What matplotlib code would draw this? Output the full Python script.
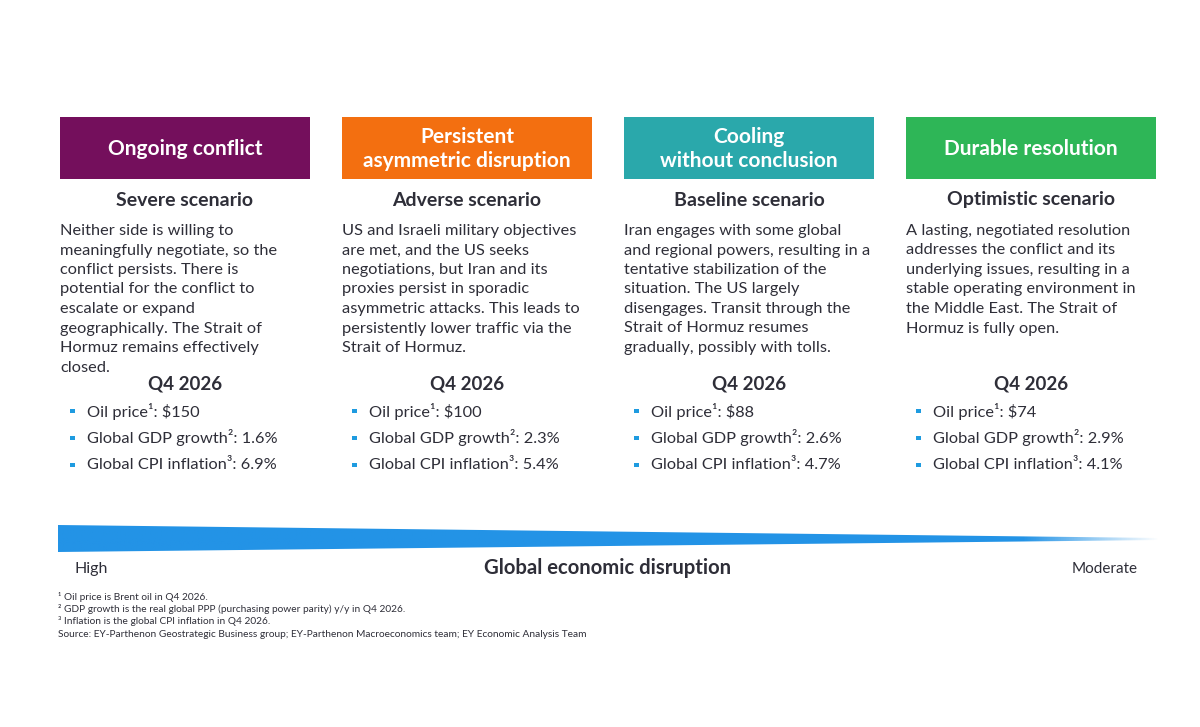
import numpy as np
import matplotlib
matplotlib.use("Agg")
import matplotlib.pyplot as plt
from matplotlib.patches import Rectangle, Polygon

plt.rcParams['font.family'] = ['Lato', 'DejaVu Sans']

# scenario content
headers = ["Ongoing conflict", "Persistent\nasymmetric disruption",
           "Cooling\nwithout conclusion", "Durable resolution"]
header_colors = ["#740F5C", "#F36F10", "#2AA8AB", "#2EB657"]
subtitles = ["Severe scenario", "Adverse scenario", "Baseline scenario", "Optimistic scenario"]
descriptions = [
    ["Neither side is willing to", "meaningfully negotiate, so the", "conflict persists. There is",
     "potential for the conflict to", "escalate or expand", "geographically. The Strait of",
     "Hormuz remains effectively", "closed."],
    ["US and Israeli military objectives", "are met, and the US seeks",
     "negotiations, but Iran and its", "proxies persist in sporadic",
     "asymmetric attacks. This leads to", "persistently lower traffic via the",
     "Strait of Hormuz."],
    ["Iran engages with some global", "and regional powers, resulting in a",
     "tentative stabilization of the", "situation. The US largely",
     "disengages. Transit through the", "Strait of Hormuz resumes",
     "gradually, possibly with tolls."],
    ["A lasting, negotiated resolution", "addresses the conflict and its",
     "underlying issues, resulting in a", "stable operating environment in",
     "the Middle East. The Strait of", "Hormuz is fully open."],
]
period = "Q4 2026"
oil_price = [150, 100, 88, 74]
gdp_growth = [1.6, 2.3, 2.6, 2.9]
cpi_inflation = [6.9, 5.4, 4.7, 4.1]

footnotes = [
    "\u00b9 Oil price is Brent oil in Q4 2026.",
    "\u00b2 GDP growth is the real global PPP (purchasing power parity) y/y in Q4 2026.",
    "\u00b3 Inflation is the global CPI inflation in Q4 2026.",
    "Source: EY-Parthenon Geostrategic Business group; EY-Parthenon Macroeconomics team; EY Economic Analysis Team",
]

TEXT = "#2E2E38"
BULLET = "#1E9BE0"

fig = plt.figure(figsize=(12, 7.27), dpi=100)
ax = fig.add_axes([0, 0, 1, 1])
ax.set_xlim(0, 1200)
ax.set_ylim(727, 0)
ax.axis("off")

col_x0 = [60, 342, 624, 906]
col_w = 250

for i in range(4):
    x0 = col_x0[i]
    xc = x0 + col_w / 2
    ax.add_patch(Rectangle((x0, 117), col_w, 62, color=header_colors[i], lw=0))
    ax.text(xc, 149, headers[i], color="white", ha="center", va="center",
            fontsize=15, fontweight="bold", linespacing=1.2)
    ax.text(xc, 200, subtitles[i], color=TEXT, ha="center", va="center",
            fontsize=14, fontweight="bold")
    for j, line in enumerate(descriptions[i]):
        ax.text(x0, 231 + j * 19.5, line, color=TEXT, ha="left", va="center", fontsize=11.8)
    ax.text(xc, 384, period, color=TEXT, ha="center", va="center",
            fontsize=13.5, fontweight="bold")
    bullets = [f"Oil price\u00b9: ${oil_price[i]}",
               f"Global GDP growth\u00b2: {gdp_growth[i]}%",
               f"Global CPI inflation\u00b3: {cpi_inflation[i]}%"]
    for j, b in enumerate(bullets):
        y = 411 + j * 27
        ax.add_patch(Rectangle((x0 + 10, y - 2.5), 4.5, 4.5, color=BULLET, lw=0))
        ax.text(x0 + 27, y, b, color=TEXT, ha="left", va="center", fontsize=11.8)

# tapered disruption wedge with fade at the right end
wx0, wx1 = 58, 1160
grad = np.ones((1, 400, 4))
base = np.array(matplotlib.colors.to_rgb("#2393E6"))
grad[0, :, :3] = base
alpha = np.ones(400)
alpha[-50:] = np.linspace(1, 0, 50)
grad[0, :, 3] = alpha
im = ax.imshow(grad, extent=(wx0, wx1, 552, 525), aspect="auto", zorder=2)
wedge = Polygon([(wx0, 525), (wx1, 538), (wx1, 540), (wx0, 552)], closed=True,
                transform=ax.transData, facecolor="none", edgecolor="none")
ax.add_patch(wedge)
im.set_clip_path(wedge)
ax.set_xlim(0, 1200)
ax.set_ylim(727, 0)

ax.text(75, 569, "High", color=TEXT, ha="left", va="center", fontsize=11.5)
ax.text(608, 568, "Global economic disruption", color=TEXT, ha="center", va="center",
        fontsize=14.6, fontweight="bold")
ax.text(1138, 569, "Moderate", color=TEXT, ha="right", va="center", fontsize=11)

for k, fn in enumerate(footnotes):
    ax.text(58, 597 + k * 12 + (1.5 if k == 3 else 0), fn, color=TEXT, ha="left",
            va="center", fontsize=7.3)

fig.savefig("out.png", dpi=100, facecolor="white")
